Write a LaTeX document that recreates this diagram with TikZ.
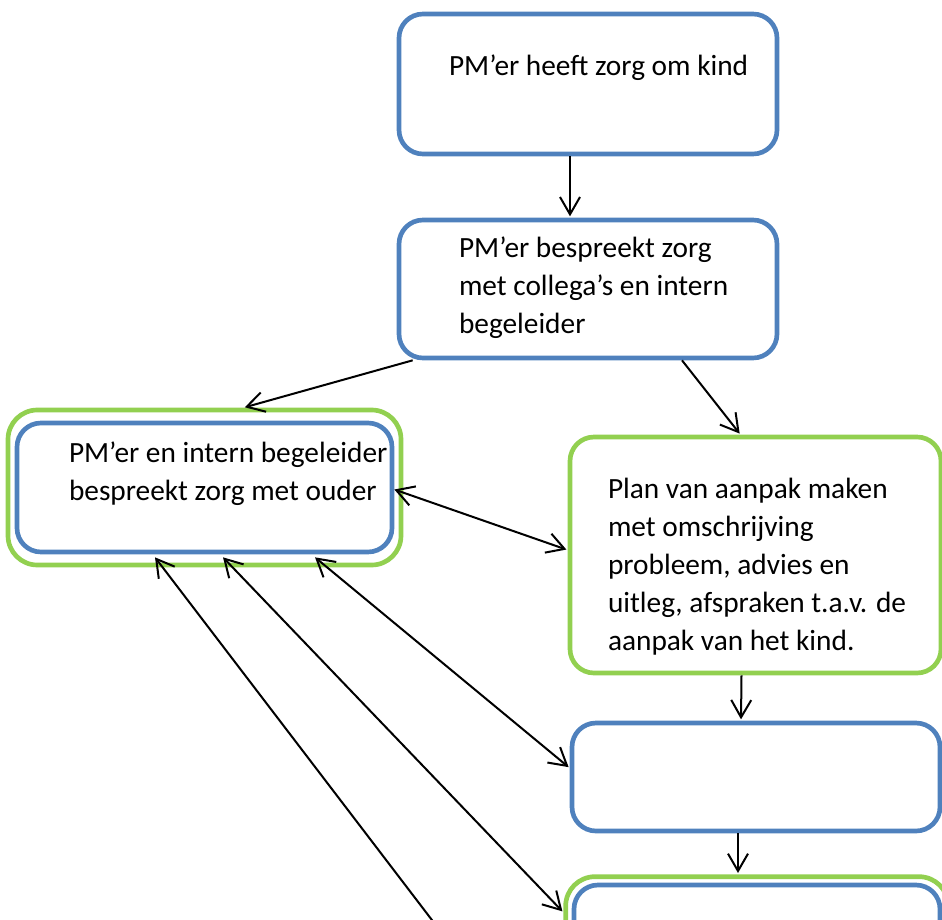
\documentclass[tikz,border=0pt]{standalone}
\usepackage{fontspec}
\setmainfont{Carlito}
\usepackage{tikz}
\usetikzlibrary{calc}
\usetikzlibrary{arrows.meta}
\usetikzlibrary{fit}
\definecolor{vakblauw}{RGB}{79,129,189}
\definecolor{vakgroen}{RGB}{146,208,80}
\tikzset{
    vak/.style={
           rectangle,
           rounded corners=18pt,
           line width=3.5pt,
           inner sep=0pt,
           },
    blauwvak/.style={vak, draw=vakblauw},
    groenvak/.style={vak, draw=vakgroen},
    tekst/.style={
           anchor=base west,
           align=left,
           inner sep=0pt,
           font=\fontsize{22}{28.5}\selectfont,
           },
}

\begin{document}
\begin{tikzpicture}[x=0.75pt, y=-0.75pt, line width=1.5pt, shorten >=1pt,
    >={Straight Barb[length=13pt,width=15pt]}]
      \useasboundingbox (0,0) rectangle (942,920);
      \clip (0,0) rectangle (942,920);
      % vakken
      \node[blauwvak, fit={(399,14) (777,154)}] (zorg) {};
      \node[blauwvak, fit={(399,220) (777,358)}] (overleg) {};
      \node[blauwvak, fit={(17,423) (392,552)}] (ouder) {};
      \node[groenvak, rounded corners=22pt, fit=(ouder), inner xsep=5pt, inner ysep=8pt] (ouderrand) {};
      \node[groenvak, fit={(570,437) (941,673)}] (plan) {};
      \node[blauwvak, fit={(572,723) (940,831)}] (leeg) {};
      \node[blauwvak, fit={(574,885) (940,1010)}] (laatste) {};
      \node[groenvak, rounded corners=22pt, fit=(laatste), inner sep=4.5pt] (laatsterand) {};
      \coordinate (buiten) at (493,1000);
      % teksten (base = laatste regel)
      \node[tekst] (zorgtekst) at (448,76) {PM’er heeft zorg om kind};
      \node[tekst] (overlegtekst) at (458,333) {PM’er bespreekt zorg\\met collega’s en intern\\begeleider};
      \node[tekst] (oudertekst) at (68,500) {PM’er en intern begeleider\\bespreekt zorg met ouder};
      \node[tekst] (plantekst) at (607,650) {Plan van aanpak maken\\met omschrijving\\probleem, advies en\\uitleg, afspraken t.a.v. de\\aanpak van het kind.};
      % pijlen
      \draw[->] ($(zorg.south)+(-18,0)$) -- ($(overleg.north)+(-18,0)$);
      \draw[->] ($(overleg.south west)+(16,0)$) -- ($(ouderrand.north)+(39,0)$);
      \draw[->] ($(overleg.south)+(94,0)$) -- ($(plan.north)+(-15,0)$);
      \draw[<->] ($(ouder.east)+(0,2)$) -- ($(plan.west)+(0,-5)$);
      \draw[->] ($(plan.south)+(-14,0)$) -- ($(leeg.north)+(-15,0)$);
      \draw[->] ($(leeg.south)+(-18,0)$) -- ($(laatsterand.north)+(-19,0)$);
      \draw[<->] ($(ouder.south)+(110.5,3)$) -- ($(leeg.west)+(0,-9)$);
      \draw[<->] ($(ouder.south)+(18.5,3)$) -- ($(laatsterand.north west)+(0,38)$);
      \draw[<-] ($(ouder.south)+(-49.5,3)$) -- (buiten);
\end{tikzpicture}
\end{document}
